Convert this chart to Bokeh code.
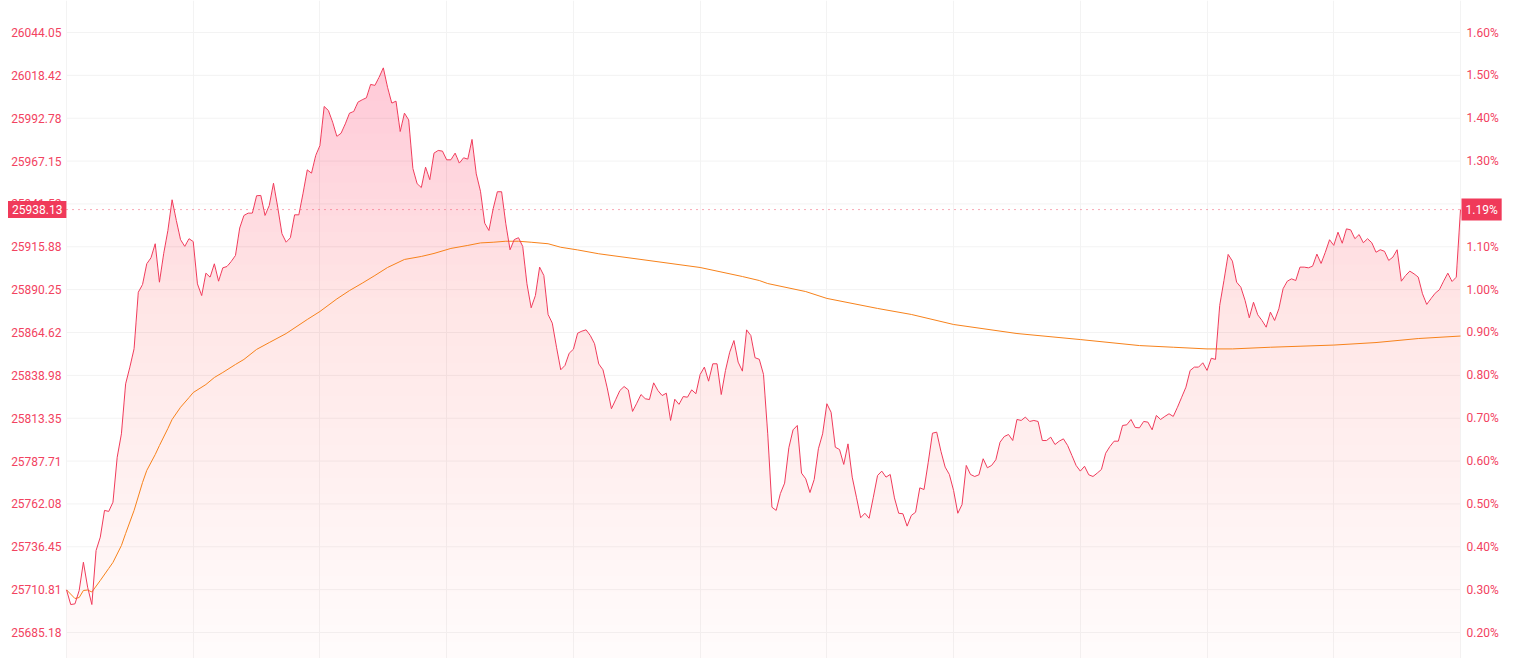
import numpy as np
from bokeh.plotting import figure
from bokeh.models import Range1d, FixedTicker, Label
from bokeh.core.properties import value
from bokeh.embed import file_html
from bokeh.resources import INLINE

# ---------------- data ----------------
price = [
    25710.7, 25701.9, 25702.3, 25710.3, 25727.2, 25712.3, 25701.9, 25734.2, 25742.2, 25758.2,
    25757.6, 25763.1, 25790.0, 25804.0, 25833.9, 25843.9, 25854.9, 25888.7, 25893.3, 25905.7,
    25909.3, 25917.7, 25894.7, 25911.7, 25925.6, 25944.0, 25931.6, 25920.1, 25916.1, 25920.7,
    25919.0, 25893.7, 25886.7, 25900.1, 25897.7, 25905.7, 25895.3, 25903.3, 25904.1, 25907.1,
    25910.7, 25927.1, 25934.6, 25936.0, 25936.0, 25946.4, 25946.6, 25934.6, 25940.6, 25953.9,
    25939.6, 25923.7, 25918.6, 25921.3, 25935.0, 25935.0, 25947.9, 25961.9, 25959.9, 25970.5,
    25976.5, 25999.8, 25997.4, 25990.4, 25981.9, 25983.8, 25989.4, 25995.8, 25996.8, 26002.4,
    26003.8, 26005.0, 26013.0, 26012.4, 26017.3, 26022.9, 26011.3, 26001.8, 26003.0, 25984.8,
    25995.8, 25991.8, 25962.7, 25953.6, 25951.3, 25963.5, 25956.0, 25971.9, 25973.5, 25973.1,
    25967.9, 25967.9, 25971.9, 25965.9, 25969.1, 25968.3, 25980.1, 25959.5, 25949.1, 25930.0,
    25925.6, 25938.6, 25948.8, 25948.8, 25929.6, 25914.1, 25920.2, 25921.3, 25916.1, 25893.7,
    25879.4, 25886.7, 25903.7, 25898.7, 25875.4, 25870.2, 25855.8, 25842.3, 25844.9, 25852.2,
    25854.6, 25864.2, 25865.4, 25866.2, 25862.8, 25857.9, 25845.8, 25842.3, 25831.5, 25819.0,
    25824.4, 25829.9, 25832.3, 25830.3, 25817.4, 25822.3, 25827.5, 25825.0, 25824.5, 25834.5,
    25829.9, 25826.9, 25828.3, 25812.0, 25824.7, 25821.6, 25826.3, 25825.9, 25830.3, 25828.0,
    25839.5, 25843.9, 25835.5, 25845.9, 25845.9, 25827.5, 25841.9, 25852.8, 25859.8, 25846.9,
    25841.5, 25866.2, 25862.8, 25849.5, 25848.6, 25839.5, 25804.0, 25760.1, 25758.2, 25768.3,
    25774.5, 25795.7, 25806.4, 25809.0, 25780.5, 25777.1, 25768.9, 25776.7, 25795.1, 25804.0,
    25822.0, 25816.9, 25796.0, 25794.6, 25785.7, 25798.0, 25778.1, 25766.1, 25753.8, 25756.5,
    25753.5, 25766.1, 25779.1, 25781.7, 25778.1, 25779.7, 25765.7, 25756.5, 25756.2, 25748.8,
    25755.2, 25757.1, 25771.7, 25770.7, 25787.0, 25804.4, 25805.0, 25793.6, 25784.1, 25779.7,
    25770.1, 25756.5, 25761.7, 25785.1, 25779.7, 25778.5, 25779.5, 25789.1, 25783.7, 25785.1,
    25788.5, 25799.0, 25802.4, 25803.6, 25800.0, 25812.6, 25812.0, 25814.0, 25811.4, 25812.0,
    25811.4, 25800.0, 25800.0, 25802.0, 25797.6, 25799.6, 25801.0, 25797.0, 25791.1, 25785.1,
    25781.7, 25784.6, 25779.5, 25778.5, 25780.5, 25782.7, 25792.4, 25796.4, 25799.6, 25799.6,
    25809.0, 25809.4, 25812.6, 25807.8, 25807.6, 25811.4, 25811.0, 25806.4, 25815.0, 25812.6,
    25814.4, 25816.0, 25814.4, 25819.9, 25825.9, 25831.9, 25841.9, 25843.9, 25843.9, 25846.5,
    25841.9, 25849.2, 25848.5, 25880.8, 25895.7, 25911.3, 25907.3, 25894.7, 25891.7, 25883.8,
    25873.4, 25882.7, 25875.2, 25871.8, 25867.8, 25876.8, 25871.8, 25878.8, 25890.8, 25895.3,
    25896.7, 25895.7, 25903.7, 25903.7, 25903.3, 25904.3, 25911.5, 25905.9, 25912.6, 25920.1,
    25916.7, 25924.6, 25918.0, 25926.6, 25926.0, 25920.7, 25923.2, 25918.3, 25920.7, 25918.3,
    25912.6, 25914.1, 25913.2, 25907.7, 25909.7, 25914.1, 25895.3, 25898.7, 25901.3, 25899.7,
    25897.7, 25887.8, 25881.4, 25884.8, 25888.1, 25890.2, 25895.3, 25900.1, 25895.1, 25897.7,
    25938.13,
]

avg_minute = [0, 2, 3, 4, 5, 6, 8, 10, 11, 13, 14, 16, 18, 19, 21, 22, 24, 25, 27, 29, 30, 33, 35,
              37, 40, 42, 45, 48, 52, 57, 60, 64, 67, 70, 73, 76, 80, 84, 87, 91, 95, 98, 101, 104,
              107, 110, 114, 117, 121, 126, 136, 150, 160, 164, 166, 175, 180, 192, 200, 210, 225,
              240, 254, 262, 270, 276, 285, 300, 310, 320, 330]
avg_price = [25710.7, 25705.5, 25706.1, 25710.3, 25710.6, 25709.4, 25716.3, 25723.5, 25727.1,
             25737.2, 25744.4, 25758.2, 25774.9, 25782.1, 25791.6, 25797.0, 25807.2, 25812.6,
             25819.9, 25825.7, 25828.7, 25833.5, 25837.7, 25840.7, 25845.5, 25848.5, 25854.5,
             25858.6, 25864.0, 25872.4, 25877.2, 25884.7, 25889.7, 25894.1, 25898.7, 25903.5,
             25908.3, 25910.1, 25911.9, 25914.9, 25916.7, 25918.2, 25918.6, 25919.2, 25919.2,
             25918.6, 25917.7, 25915.6, 25914.0, 25911.7, 25908.3, 25903.5, 25898.1, 25895.7,
             25893.9, 25889.1, 25885.0, 25879.0, 25875.4, 25869.4, 25864.0, 25860.4, 25856.8,
             25855.8, 25854.8, 25854.8, 25855.8, 25857.1, 25858.6, 25861.0, 25862.5]

price_ticks = [25685.18, 25710.81, 25736.45, 25762.08, 25787.71, 25813.35, 25838.98, 25864.62,
               25890.25, 25915.88, 25941.52, 25967.15, 25992.78, 26018.42, 26044.05]
pct_ticks = [0.20, 0.30, 0.40, 0.50, 0.60, 0.70, 0.80, 0.90, 1.00, 1.10, 1.20, 1.30, 1.40, 1.50, 1.60]
time_ticks = [0, 30, 60, 90, 120, 150, 180, 210, 240, 270, 300, 330]

# ---------------- layout / styling ----------------
RED = "#f03a5a"
LABEL_RED = "#f2435f"
ORANGE = "#f7821b"
GRID = "#f3f3f3"
FONT = "Roboto"
FIG_W, FIG_H = 1515, 658
DATA_LEFT_PX, DATA_RIGHT_PX = 66, 1460      # where the trading session sits on the page
TICK_TOP_PX, TICK_BOT_PX = 32, 632          # pixel rows of first/last tick

minutes = np.arange(len(price))
y = np.array(price, dtype=float)
n_last = len(price) - 1

px_per_min = (DATA_RIGHT_PX - DATA_LEFT_PX) / n_last
x_start = -DATA_LEFT_PX / px_per_min
x_end = x_start + FIG_W / px_per_min
def px_to_x(px):
    return x_start + px / px_per_min

px_per_unit = (TICK_BOT_PX - TICK_TOP_PX) / (price_ticks[-1] - price_ticks[0])
y_top = price_ticks[-1] + TICK_TOP_PX / px_per_unit
y_bot = price_ticks[0] - (FIG_H - TICK_BOT_PX) / px_per_unit

def to_pct(v):
    return pct_ticks[0] + (v - price_ticks[0]) * (pct_ticks[-1] - pct_ticks[0]) / (price_ticks[-1] - price_ticks[0])

p = figure(width=FIG_W, height=FIG_H, x_range=Range1d(x_start, x_end),
           y_range=Range1d(y_bot, y_top), output_backend="svg", toolbar_location=None,
           min_border_left=0, min_border_right=0, min_border_top=0, min_border_bottom=0)
p.outline_line_color = None
p.background_fill_color = "white"
p.border_fill_color = "white"
p.xaxis.visible = False
p.yaxis.visible = False
p.xgrid.ticker = FixedTicker(ticks=time_ticks)
p.xgrid.grid_line_color = GRID
p.ygrid.visible = False

# horizontal grid lines limited to the session area
p.segment(x0=0, x1=n_last, y0=price_ticks, y1=price_ticks, line_color=GRID, line_width=1)

# gradient area fill (stacked translucent layers)
def clip_above(xs, ys, lev):
    ox, oy = [], []
    for i in range(len(xs)):
        if i > 0:
            y0, y1 = ys[i - 1], ys[i]
            if (y0 - lev) * (y1 - lev) < 0:
                t = (lev - y0) / (y1 - y0)
                ox.append(float(xs[i - 1] + t * (xs[i] - xs[i - 1])))
                oy.append(lev)
        ox.append(float(xs[i]))
        oy.append(max(ys[i], lev))
    return ox, oy

N = 36
g_bot, g_top = y_bot, y.max()
A0, A1 = 0.015, 0.20
step = (g_top - g_bot) / N

def A(h):
    return A0 + (A1 - A0) * (h - g_bot) / (g_top - g_bot)

ox, oy = clip_above(minutes, y, g_bot)
p.varea(x=ox, y1=g_bot, y2=oy, fill_color=RED, fill_alpha=A0)
prev_c = A0
for k in range(N):
    lev = g_bot + k * step
    target = A(lev + step)
    ak = 1 - (1 - target) / (1 - prev_c)
    prev_c = target
    ox, oy = clip_above(minutes, y, lev)
    p.varea(x=ox, y1=lev, y2=oy, fill_color=RED, fill_alpha=max(ak, 0))

p.line(avg_minute, avg_price, line_color=ORANGE, line_width=1)
p.line(minutes, y, line_color=RED, line_width=1)

last = price[-1]
p.segment(x0=[0], x1=[n_last], y0=[last], y1=[last], line_color=LABEL_RED,
          line_dash="1 5", line_alpha=0.9, line_width=1)

# axis tick labels (left: price, right: percent change)
p.text(x=[px_to_x(61)] * len(price_ticks), y=price_ticks,
       text=[f"{v:.2f}" for v in price_ticks], text_align="right", text_baseline="middle",
       text_color=LABEL_RED, text_font=value(FONT), text_font_size=value("12px"))
p.text(x=[px_to_x(1466)] * len(pct_ticks), y=price_ticks,
       text=[f"{v:.2f}%" for v in pct_ticks], text_align="left", text_baseline="middle",
       text_color=LABEL_RED, text_font=value(FONT), text_font_size=value("12px"))

# last-price tags
lbl_l = Label(x=px_to_x(7.5), y=last, text=f"{last:.2f}",
              text_align="left", text_baseline="middle",
              text_color="white", text_font=FONT, text_font_size="12px",
              background_fill_color=RED, padding=4)
lbl_r = Label(x=px_to_x(1461), y=last, text=f"{to_pct(last):.2f}%", text_align="left",
              text_baseline="middle", text_color="white", text_font=FONT,
              text_font_size="12px", background_fill_color=RED, padding=4)
p.add_layout(lbl_l)
p.add_layout(lbl_r)

open("out.html", "w").write(file_html(p, INLINE))
